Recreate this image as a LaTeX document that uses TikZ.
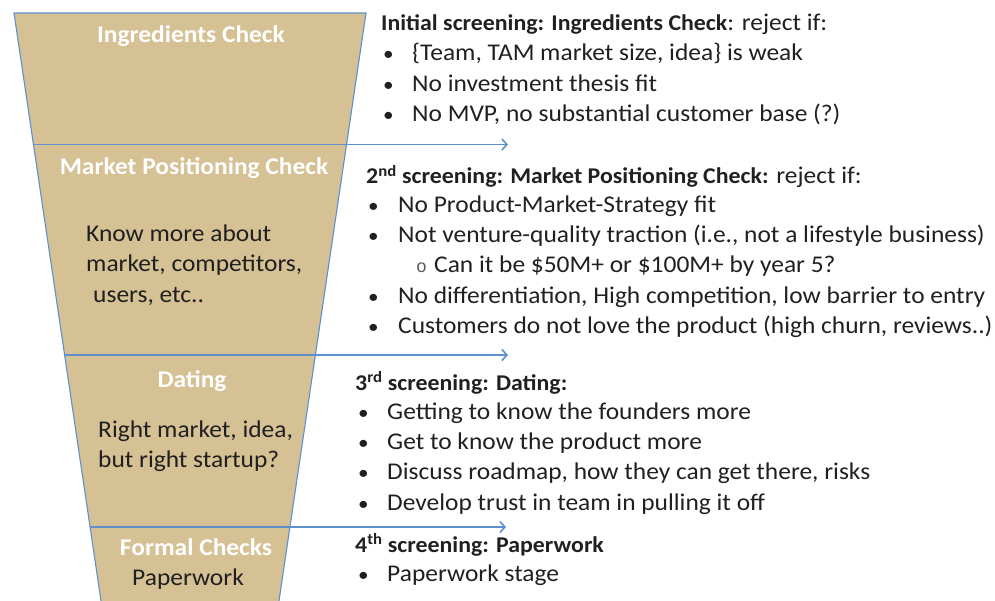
\documentclass[tikz,border=0pt]{standalone}
\usepackage{fontspec}
\setmainfont{Carlito}[FakeStretch=1.06]
\newfontfamily\monofam{Liberation Mono}
\usetikzlibrary{arrows.meta}
\definecolor{funnelfill}{RGB}{213,193,148}
\definecolor{edgeblue}{RGB}{94,144,206}
\definecolor{darktext}{RGB}{32,32,32}
\definecolor{subgray}{RGB}{90,90,90}
\newcommand{\hb}[1]{{\fontsize{22.5}{28}\selectfont\bfseries #1}}
\begin{document}
\begin{tikzpicture}[x=1pt,y=-1pt,
  stagetitle/.style={text=white, font=\fontsize{24}{28}\selectfont\bfseries, inner sep=0, anchor=base},
  stagenote/.style={text=darktext, font=\fontsize{24}{28}\selectfont, inner sep=0, anchor=base west},
  rtext/.style={text=darktext, font=\fontsize{24}{28}\selectfont, inner sep=0, anchor=base west},
  bul/.style={text=darktext, font=\fontsize{20}{28}\selectfont, inner sep=0, anchor=base west},
  subbul/.style={text=subgray, font=\monofam\fontsize{18}{22}\selectfont, inner sep=0, anchor=base west},
  arrowline/.style={draw=edgeblue, line width=1.8pt, -{Straight Barb[length=5pt,width=11pt,line width=1.6pt]}},
  funneledge/.style={draw=edgeblue, line width=1.1pt},
]
\useasboundingbox (0,0) rectangle (995,601);
\begin{scope}
\clip (0,0) rectangle (995,601);
% funnel
\coordinate (ftl) at (14,13);
\coordinate (ftr) at (366,13);
\coordinate (fbr) at (277.5,611);
\coordinate (fbl) at (102.5,611);
\fill[funnelfill] (ftl) -- (ftr) -- (fbr) -- (fbl) -- cycle;
\draw[funneledge] (fbl) -- (ftl) -- (ftr) -- (fbr);
% arrows
\coordinate (a1s) at (33.4,144.5);
\coordinate (a1e) at (508,144.5);
\coordinate (a2s) at (64.6,355);
\coordinate (a2e) at (508,355);
\coordinate (a3s) at (90,527);
\coordinate (a3e) at (506,527);
\draw[arrowline] (a1s) -- (a1e);
\draw[arrowline] (a2s) -- (a2e);
\draw[arrowline] (a3s) -- (a3e);
\end{scope}
% stage labels in the funnel
\node[stagetitle] (t1) at (191,43) {Ingredients Check};
\node[stagetitle] (t2) at (194,175) {Market Positioning Check};
\node[stagetitle] (t3) at (192,387) {Dating};
\node[stagetitle] (t4) at (196,555) {Formal Checks};
\node[stagenote] (n2a) at (86,242) {Know more about};
\node[stagenote] (n2b) at (86,272) {market, competitors,};
\node[stagenote] (n2c) at (93,302) {users, etc..};
\node[stagenote] (n3a) at (98,437) {Right market, idea,};
\node[stagenote] (n3b) at (98,467) {but right startup?};
\node[stagenote, anchor=base] (n4a) at (188,585) {Paperwork};
% block 1
\node[rtext] (h1) at (381,31) {\hb{Initial screening: Ingredients Check}: reject if:};
\node[bul] (b1a) at (383,61) {•};
\node[rtext] (l1a) at (412,61) {\{Team, TAM market size, idea\} is weak};
\node[bul] (b1b) at (383,92) {•};
\node[rtext] (l1b) at (412,92) {No investment thesis fit};
\node[bul] (b1c) at (383,122) {•};
\node[rtext] (l1c) at (412,122) {No MVP, no substantial customer base (?)};
% block 2
\node[rtext] (h2) at (366,184) {\hb{2\textsuperscript{nd} screening: Market Positioning Check:} reject if:};
\node[bul] (b2a) at (368,213) {•};
\node[rtext] (l2a) at (398,213) {No Product-Market-Strategy fit};
\node[bul] (b2b) at (368,243) {•};
\node[rtext] (l2b) at (398,243) {Not venture-quality traction (i.e., not a lifestyle business)};
\node[subbul] (b2c) at (416,273) {o};
\node[rtext] (l2c) at (434,273) {Can it be \$50M+ or \$100M+ by year 5?};
\node[bul] (b2d) at (368,304) {•};
\node[rtext] (l2d) at (398,304) {No differentiation, High competition, low barrier to entry};
\node[bul] (b2e) at (368,334) {•};
\node[rtext] (l2e) at (398,334) {Customers do not love the product (high churn, reviews..)};
% block 3
\node[rtext] (h3) at (355,390) {\hb{3\textsuperscript{rd} screening: Dating:}};
\node[bul] (b3a) at (358,419) {•};
\node[rtext] (l3a) at (387,419) {Getting to know the founders more};
\node[bul] (b3b) at (358,449) {•};
\node[rtext] (l3b) at (387,449) {Get to know the product more};
\node[bul] (b3c) at (358,479) {•};
\node[rtext] (l3c) at (387,479) {Discuss roadmap, how they can get there, risks};
\node[bul] (b3d) at (358,510) {•};
\node[rtext] (l3d) at (387,510) {Develop trust in team in pulling it off};
% block 4
\node[rtext] (h4) at (355,552) {\hb{4\textsuperscript{th} screening: Paperwork}};
\node[bul] (b4a) at (358,581) {•};
\node[rtext] (l4a) at (387,581) {Paperwork stage};
\end{tikzpicture}
\end{document}
